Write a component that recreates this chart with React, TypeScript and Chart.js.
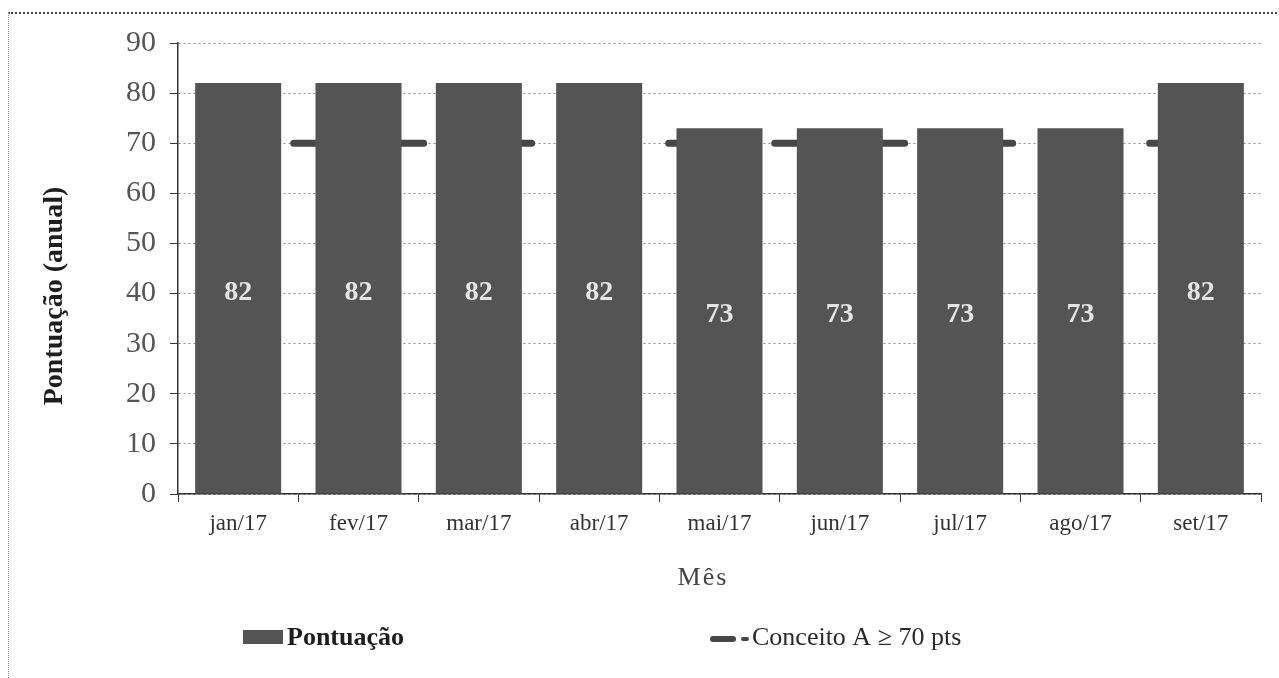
import React, { useEffect, useRef } from "react";
import { Chart, registerables } from "chart.js";

Chart.register(...registerables);

const categories = ["jan/17", "fev/17", "mar/17", "abr/17", "mai/17", "jun/17", "jul/17", "ago/17", "set/17"];
const pontuacao = [82, 82, 82, 82, 73, 73, 73, 73, 82];
const conceitoA = [70, 70, 70, 70, 70, 70, 70, 70, 70];
const yMin = 0;
const yMax = 90;
const yStep = 10;
const yTitle = "Pontuação (anual)";
const xTitle = "Mês";
const legendBar = "Pontuação";
const legendLine = "Conceito A ≥ 70 pts";

const SERIF = '"Liberation Serif", "Times New Roman", serif';
const BAR_COLOR = "#545454";
const LINE_COLOR = "#474747";

const textPlugin = {
  id: "textPlugin",
  afterDatasetsDraw(chart: any) {
    const ctx = chart.ctx;
    const meta = chart.getDatasetMeta(0);
    ctx.save();
    ctx.font = `bold 28px ${SERIF}`;
    ctx.fillStyle = "#e4e4e4";
    ctx.textAlign = "center";
    ctx.textBaseline = "middle";
    meta.data.forEach((bar: any, i: number) => {
      const p = bar.getProps(["x", "y", "base"], true);
      ctx.fillText(String(pontuacao[i]), p.x, (p.y + p.base) / 2 + 4);
    });
    ctx.restore();
  },
  afterDraw(chart: any) {
    const ctx = chart.ctx;
    ctx.save();
    ctx.translate(55, 296);
    ctx.rotate(-Math.PI / 2);
    ctx.font = `bold 28px ${SERIF}`;
    ctx.fillStyle = "#1e1e1e";
    ctx.textAlign = "center";
    ctx.textBaseline = "middle";
    ctx.fillText(yTitle, 0, 0);
    ctx.restore();

    ctx.save();
    ctx.font = `26px ${SERIF}`;
    ctx.fillStyle = "#444";
    ctx.textAlign = "center";
    ctx.textBaseline = "middle";
    try { (ctx as any).letterSpacing = "2px"; } catch (e) {}
    ctx.fillText(xTitle, 703, 578);
    ctx.restore();

    ctx.save();
    ctx.fillStyle = BAR_COLOR;
    ctx.fillRect(243, 630, 40, 14);
    ctx.font = `bold 26px ${SERIF}`;
    ctx.fillStyle = "#1e1e1e";
    ctx.textAlign = "left";
    ctx.textBaseline = "middle";
    ctx.fillText(legendBar, 287, 638);

    ctx.strokeStyle = LINE_COLOR;
    ctx.lineWidth = 6;
    ctx.lineCap = "round";
    ctx.beginPath();
    ctx.moveTo(713, 639);
    ctx.lineTo(733, 639);
    ctx.stroke();
    ctx.lineWidth = 4;
    ctx.beginPath();
    ctx.moveTo(743, 639);
    ctx.lineTo(747, 639);
    ctx.stroke();
    ctx.font = `26px ${SERIF}`;
    ctx.fillStyle = "#2a2a2a";
    ctx.fillText(legendLine, 752, 638);
    ctx.restore();
  },
};

export default function App() {
  const ref = useRef<HTMLCanvasElement>(null);

  useEffect(() => {
    if (!ref.current) return;
    const chart = new Chart(ref.current, {
      type: "bar",
      data: {
        labels: categories,
        datasets: [
          {
            type: "bar",
            label: legendBar,
            data: pontuacao,
            backgroundColor: BAR_COLOR,
            borderWidth: 0,
            barPercentage: 0.715,
            categoryPercentage: 1,
            order: 1,
          },
          {
            type: "line",
            label: legendLine,
            data: conceitoA,
            borderColor: LINE_COLOR,
            borderWidth: 7,
            borderCapStyle: "round",
            borderDash: [90, 16, 130, 47, 61, 137],
            borderDashOffset: 50.5,
            pointRadius: 0,
            fill: false,
            tension: 0,
            order: 2,
          } as any,
        ],
      },
      options: {
        responsive: false,
        animation: false,
        layout: { padding: { top: 43, right: 18, bottom: 0, left: 0 } },
        plugins: {
          legend: { display: false },
          tooltip: { enabled: false },
        },
        scales: {
          x: {
            afterFit: (s: any) => { s.height = 184; },
            grid: {
              offset: true,
              drawOnChartArea: false,
              drawTicks: true,
              tickLength: 8,
              color: "#333",
              tickColor: "#333",
            },
            border: { display: true, color: "#333", width: 1.5 },
            ticks: {
              font: { family: SERIF, size: 23 },
              color: "#333",
              padding: 8,
              maxRotation: 0,
            },
          },
          y: {
            min: yMin,
            max: yMax,
            afterFit: (s: any) => { s.width = 178; },
            grid: {
              color: "#8a8a8a",
              lineWidth: 1,
              tickLength: 8,
              tickColor: "#333",
              tickBorderDash: [],
              drawTicks: true,
            },
            border: { display: true, color: "#333", width: 1.5, dash: [2, 3] },
            ticks: {
              stepSize: yStep,
              font: { family: SERIF, size: 30 },
              color: "#555",
              padding: 14,
            },
          },
        },
      },
      plugins: [textPlugin],
    } as any);
    return () => chart.destroy();
  }, []);

  return (
    <div style={{ position: "absolute", left: 0, top: 0, width: 1279, height: 678, overflow: "hidden", background: "#fff" }}>
      <div
        style={{
          position: "absolute",
          left: 8,
          top: 12,
          width: 1300,
          height: 700,
          borderTop: "2px dotted #444",
          borderLeft: "1px dotted #888",
        }}
      />
      <canvas ref={ref} width={1279} height={678} style={{ position: "absolute", left: 0, top: 0 }} />
    </div>
  );
}
